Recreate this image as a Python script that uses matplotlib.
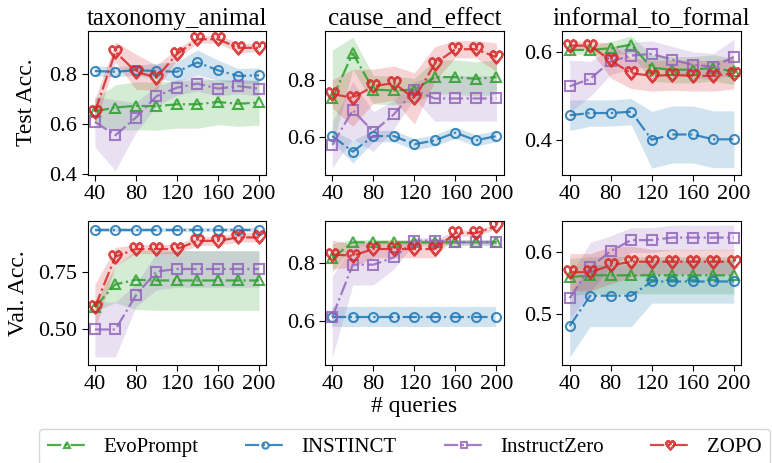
import numpy as np
import matplotlib.pyplot as plt

plt.rcParams['font.family'] = ['Liberation Serif', 'DejaVu Serif']
plt.rcParams['mathtext.fontset'] = 'dejavusans'

queries = [40, 60, 80, 100, 120, 140, 160, 180, 200]
methods = ['EvoPrompt', 'INSTINCT', 'InstructZero', 'ZOPO']
tasks = ['taxonomy_animal', 'cause_and_effect', 'informal_to_formal']

# test accuracy (mean) and half-width of the shaded band
tax_test = {
    'EvoPrompt':    [0.650, 0.665, 0.672, 0.670, 0.678, 0.678, 0.687, 0.680, 0.685],
    'INSTINCT':     [0.810, 0.807, 0.813, 0.810, 0.807, 0.844, 0.813, 0.790, 0.793],
    'InstructZero': [0.608, 0.555, 0.625, 0.710, 0.744, 0.760, 0.740, 0.750, 0.740],
    'ZOPO':         [0.648, 0.886, 0.807, 0.784, 0.877, 0.936, 0.936, 0.902, 0.902],
}
tax_test_band = {
    'EvoPrompt':    [0.05, 0.09, 0.095, 0.095, 0.095, 0.095, 0.09, 0.09, 0.09],
    'INSTINCT':     [0.02, 0.02, 0.02, 0.03, 0.04, 0.05, 0.04, 0.03, 0.03],
    'InstructZero': [0.10, 0.14, 0.06, 0.04, 0.03, 0.03, 0.03, 0.03, 0.03],
    'ZOPO':         [0.05, 0.04, 0.07, 0.05, 0.02, 0.015, 0.015, 0.02, 0.015],
}
cause_test = {
    'EvoPrompt':    [0.734, 0.893, 0.765, 0.762, 0.765, 0.809, 0.809, 0.803, 0.809],
    'INSTINCT':     [0.602, 0.547, 0.602, 0.602, 0.573, 0.587, 0.614, 0.587, 0.602],
    'InstructZero': [0.571, 0.693, 0.617, 0.678, 0.763, 0.734, 0.734, 0.734, 0.734],
    'ZOPO':         [0.750, 0.736, 0.777, 0.788, 0.734, 0.856, 0.907, 0.907, 0.879],
}
cause_test_band = {
    'EvoPrompt':    [0.17, 0.056, 0.05, 0.05, 0.04, 0.06, 0.06, 0.06, 0.06],
    'INSTINCT':     [0.02, 0.04, 0.02, 0.02, 0.02, 0.02, 0.02, 0.02, 0.02],
    'InstructZero': [0.08, 0.10, 0.07, 0.05, 0.03, 0.08, 0.08, 0.08, 0.08],
    'ZOPO':         [0.05, 0.10, 0.06, 0.06, 0.09, 0.06, 0.03, 0.03, 0.05],
}
inf_test = {
    'EvoPrompt':    [0.605, 0.605, 0.609, 0.617, 0.564, 0.560, 0.560, 0.564, 0.556],
    'INSTINCT':     [0.456, 0.461, 0.461, 0.464, 0.400, 0.412, 0.412, 0.401, 0.401],
    'InstructZero': [0.522, 0.539, 0.579, 0.592, 0.596, 0.583, 0.571, 0.567, 0.589],
    'ZOPO':         [0.615, 0.615, 0.581, 0.552, 0.546, 0.548, 0.546, 0.546, 0.551],
}
inf_test_band = {
    'EvoPrompt':    [0.01, 0.01, 0.015, 0.02, 0.03, 0.03, 0.03, 0.03, 0.03],
    'INSTINCT':     [0.035, 0.03, 0.03, 0.03, 0.065, 0.065, 0.065, 0.065, 0.065],
    'InstructZero': [0.06, 0.04, 0.03, 0.03, 0.03, 0.03, 0.03, 0.03, 0.04],
    'ZOPO':         [0.01, 0.01, 0.04, 0.035, 0.035, 0.035, 0.035, 0.035, 0.035],
}

# validation accuracy (mean) and half-width of the shaded band
tax_val = {
    'EvoPrompt':    [0.598, 0.697, 0.717, 0.714, 0.714, 0.714, 0.714, 0.714, 0.714],
    'INSTINCT':     [0.935, 0.935, 0.935, 0.935, 0.935, 0.935, 0.935, 0.935, 0.935],
    'InstructZero': [0.500, 0.500, 0.649, 0.753, 0.764, 0.764, 0.764, 0.764, 0.764],
    'ZOPO':         [0.598, 0.818, 0.851, 0.851, 0.851, 0.887, 0.887, 0.902, 0.902],
}
tax_val_band = {
    'EvoPrompt':    [0.02, 0.08, 0.13, 0.13, 0.13, 0.13, 0.13, 0.13, 0.13],
    'INSTINCT':     [0.01, 0.01, 0.01, 0.01, 0.01, 0.01, 0.01, 0.01, 0.01],
    'InstructZero': [0.12, 0.12, 0.05, 0.08, 0.08, 0.08, 0.08, 0.08, 0.08],
    'ZOPO':         [0.10, 0.04, 0.02, 0.02, 0.02, 0.02, 0.02, 0.02, 0.02],
}
cause_val = {
    'EvoPrompt':    [0.817, 0.871, 0.871, 0.871, 0.871, 0.871, 0.871, 0.871, 0.871],
    'INSTINCT':     [0.614, 0.614, 0.614, 0.614, 0.614, 0.614, 0.614, 0.614, 0.614],
    'InstructZero': [0.614, 0.794, 0.794, 0.819, 0.877, 0.877, 0.871, 0.871, 0.871],
    'ZOPO':         [0.829, 0.825, 0.848, 0.848, 0.848, 0.848, 0.903, 0.903, 0.926],
}
cause_val_band = {
    'EvoPrompt':    [0.05, 0.01, 0.01, 0.01, 0.01, 0.01, 0.01, 0.01, 0.01],
    'INSTINCT':     [0.035, 0.035, 0.035, 0.035, 0.035, 0.035, 0.035, 0.035, 0.035],
    'InstructZero': [0.14, 0.07, 0.07, 0.04, 0.01, 0.01, 0.01, 0.01, 0.01],
    'ZOPO':         [0.05, 0.04, 0.03, 0.03, 0.03, 0.03, 0.01, 0.01, 0.01],
}
inf_val = {
    'EvoPrompt':    [0.560, 0.563, 0.563, 0.563, 0.563, 0.563, 0.563, 0.563, 0.563],
    'INSTINCT':     [0.481, 0.530, 0.530, 0.530, 0.553, 0.553, 0.553, 0.553, 0.553],
    'InstructZero': [0.526, 0.576, 0.602, 0.620, 0.620, 0.624, 0.624, 0.624, 0.624],
    'ZOPO':         [0.568, 0.568, 0.579, 0.585, 0.585, 0.585, 0.585, 0.585, 0.585],
}
inf_val_band = {
    'EvoPrompt':    [0.03, 0.03, 0.03, 0.03, 0.03, 0.03, 0.03, 0.03, 0.03],
    'INSTINCT':     [0.05, 0.05, 0.05, 0.05, 0.035, 0.035, 0.035, 0.035, 0.035],
    'InstructZero': [0.035, 0.04, 0.025, 0.02, 0.02, 0.02, 0.02, 0.02, 0.02],
    'ZOPO':         [0.03, 0.03, 0.03, 0.025, 0.02, 0.02, 0.02, 0.02, 0.02],
}

colors = {'EvoPrompt': '#2ca02c', 'INSTINCT': '#1f77b4',
          'InstructZero': '#9467bd', 'ZOPO': '#d62728'}
markers = {'EvoPrompt': '^', 'INSTINCT': 'o',
           'InstructZero': 's', 'ZOPO': r'$\heartsuit$'}
msizes = {'EvoPrompt': 7, 'INSTINCT': 6.5, 'InstructZero': 6.5, 'ZOPO': 9}

panels = [
    [(tax_test, tax_test_band), (cause_test, cause_test_band), (inf_test, inf_test_band)],
    [(tax_val, tax_val_band), (cause_val, cause_val_band), (inf_val, inf_val_band)],
]
yticks = [
    [[0.4, 0.6, 0.8], [0.6, 0.8], [0.4, 0.6]],
    [[0.50, 0.75], [0.6, 0.8], [0.5, 0.6]],
]
ylims = [
    [(0.398, 0.97), (0.466, 0.972), (0.32, 0.649)],
    [(0.345, 0.974), (0.448, 0.945), (0.418, 0.651)],
]
ytick_fmt = [['%.1f'] * 3, ['%.2f', '%.1f', '%.1f']]

fig, axes = plt.subplots(2, 3, figsize=(7.72, 4.63), dpi=100)
fig.subplots_adjust(left=0.1136, right=0.9598, top=0.9337, bottom=0.2117,
                    wspace=0.33, hspace=0.32)

x = np.array(queries)
for r in range(2):
    for c in range(3):
        ax = axes[r, c]
        means, bands = panels[r][c]
        for m in methods:
            mu = np.array(means[m])
            sd = np.array(bands[m])
            ax.fill_between(x, mu - sd, mu + sd, color=colors[m], alpha=0.2, lw=0)
            ax.plot(x, mu, linestyle='-.', lw=1.6, color=colors[m], alpha=0.85,
                    marker=markers[m], ms=msizes[m], mfc='none', mew=1.5, label=m)
        ax.set_xticks([40, 80, 120, 160, 200])
        ax.set_xlim(33, 207)
        ax.set_yticks(yticks[r][c])
        ax.yaxis.set_major_formatter(plt.FormatStrFormatter(ytick_fmt[r][c]))
        ax.set_ylim(*ylims[r][c])
        ax.tick_params(labelsize=16, length=4)
        if r == 0:
            ax.set_title(tasks[c], fontsize=18, pad=4)

axes[0, 0].set_ylabel('Test Acc.', fontsize=17, labelpad=9)
axes[1, 0].set_ylabel('Val. Acc.', fontsize=17, labelpad=7)
axes[1, 1].set_xlabel('# queries', fontsize=17, labelpad=1)

handles, labels = axes[0, 0].get_legend_handles_labels()
fig.legend(handles, labels, loc='upper left', bbox_to_anchor=(39 / 772, 1 - 429 / 463),
           ncol=4, fontsize=15, columnspacing=2.25, handlelength=1.9,
           handletextpad=0.8, markerscale=0.7, borderaxespad=0, frameon=True)

fig.savefig('out.png', dpi=100)
